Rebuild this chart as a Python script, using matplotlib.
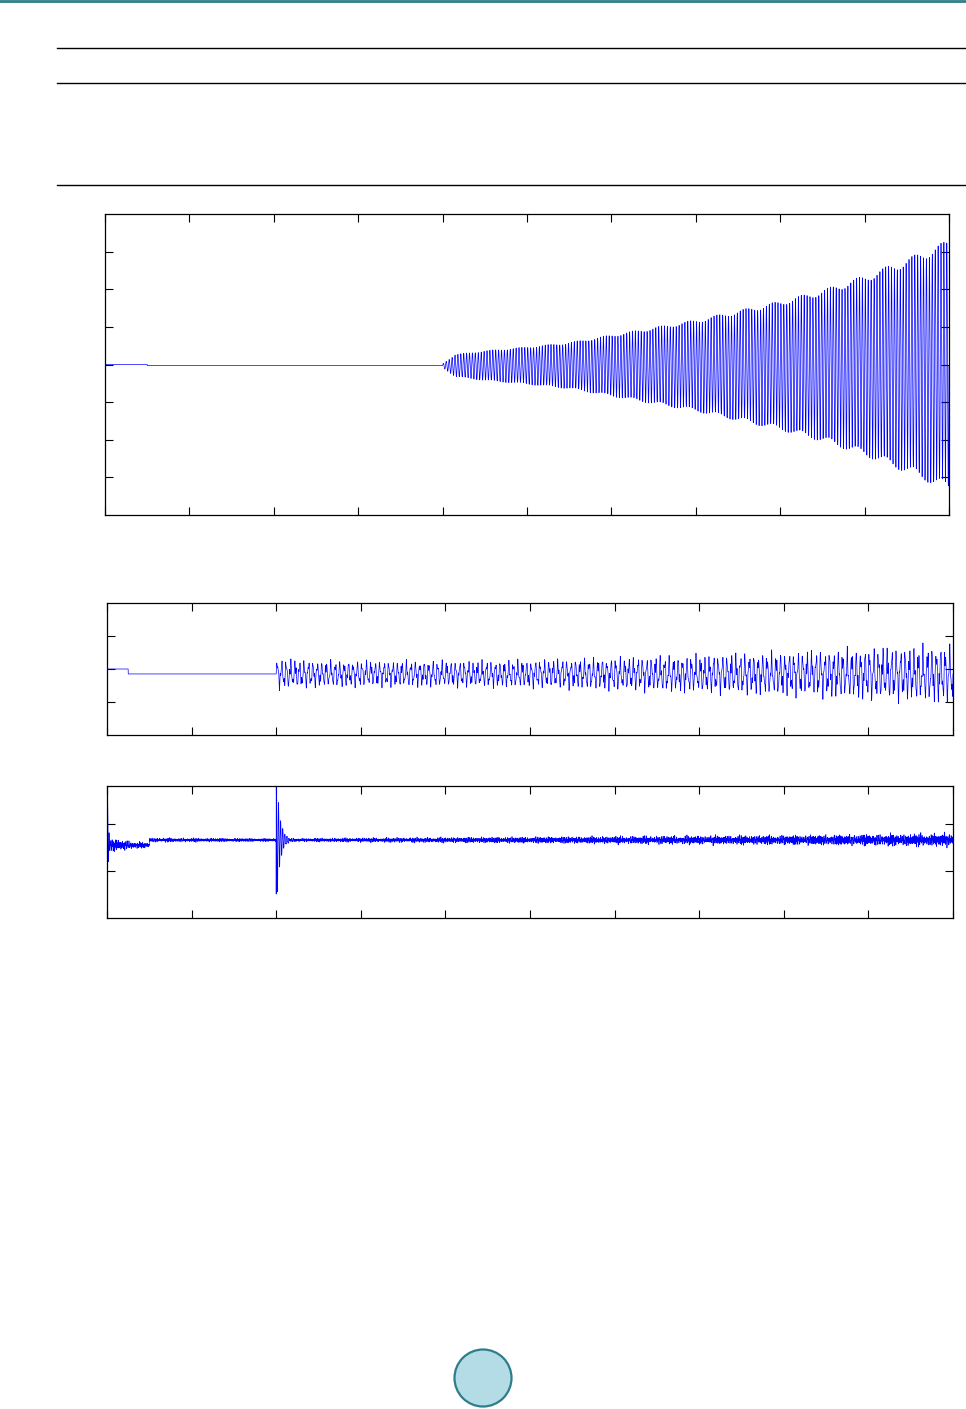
import numpy as np
import matplotlib
matplotlib.use("Agg")
import matplotlib.pyplot as plt
from matplotlib.lines import Line2D
from matplotlib.patches import Ellipse

# ---------------- data ----------------
# Panel 1: growing oscillation starting at t = 4
p1_levels_t = [0.0, 0.5]          # step times of the pre-oscillation baseline
p1_levels_y = [0.0, -0.03]
p1_start = 4.0
p1_env_t = [4.0, 4.15, 4.5, 5.0, 5.5, 6.0, 6.5, 7.0, 7.5, 8.0, 8.5, 9.0, 9.5, 10.0]
p1_env_a = [0.05, 0.30, 0.40, 0.50, 0.62, 0.82, 1.02, 1.22, 1.47, 1.72, 2.02, 2.40, 2.85, 3.35]
p1_freq = 29.0

# Panel 2: step then sustained, slowly growing oscillation from t = 2
p2_levels_t = [0.0, 0.25]
p2_levels_y = [0.0, -0.15]
p2_start = 2.0
p2_env_t = [2.0, 2.5, 3.0, 4.0, 5.0, 6.0, 7.0, 8.0, 9.0, 10.0]
p2_env_a = [0.42, 0.36, 0.36, 0.36, 0.38, 0.45, 0.52, 0.60, 0.70, 0.80]
p2_freqs = [19.0, 47.0]
p2_weights = [0.7, 0.3]

# Panel 3: transient at t = 0, step at 0.5, big transient at t = 2, then small noise
p3_levels_t = [0.0, 0.5]
p3_levels_y = [0.55, 0.66]
p3_start = 2.0
p3_ring_amp = 1.6
p3_ring_decay = 0.04
p3_noise_t = [0.0, 0.5, 2.0, 5.0, 8.0, 10.0]
p3_noise_a = [0.12, 0.04, 0.03, 0.06, 0.09, 0.12]

x_ticks = list(range(0, 11))
p1_yticks = [-3, -2, -1, 0, 1, 2, 3]
p2_yticks = [-1, 0, 1]
p3_yticks = [0, 1]

# ---------------- signal synthesis ----------------
t = np.linspace(0, 10, 40001)

def steps(tt, lt, ly):
    idx = np.searchsorted(lt, tt, side="right") - 1
    return np.asarray(ly)[np.clip(idx, 0, len(ly) - 1)]

# panel 1
y1 = steps(t, p1_levels_t, p1_levels_y)
m1 = t >= p1_start
env1 = np.interp(t, p1_env_t, p1_env_a)
osc1 = 0.96 * np.sin(2 * np.pi * p1_freq * (t - p1_start)) + 0.04 * np.sin(2 * np.pi * 61.0 * (t - p1_start))
y1 = np.where(m1, p1_levels_y[-1] + env1 * osc1, y1)

# panel 2
y2 = steps(t, p2_levels_t, p2_levels_y)
m2 = t >= p2_start
env2 = np.interp(t, p2_env_t, p2_env_a)
osc2 = sum(w * np.sin(2 * np.pi * f * (t - p2_start)) for f, w in zip(p2_freqs, p2_weights))
osc2 = osc2 + 0.25 * np.sin(2 * np.pi * 7.3 * (t - p2_start)) * np.sin(2 * np.pi * 71 * (t - p2_start))
y2 = np.where(m2, p2_levels_y[-1] + env2 * osc2, y2)

# panel 3
y3 = steps(t, p3_levels_t, p3_levels_y)
noise_env = np.interp(t, p3_noise_t, p3_noise_a)
pseudo = (np.sin(2 * np.pi * 53 * t) * np.sin(2 * np.pi * 3.1 * t)
          + 0.6 * np.sin(2 * np.pi * 131 * t + 1.0)
          + 0.5 * np.sin(2 * np.pi * 197 * t + 2.0) * np.sin(2 * np.pi * 1.7 * t)
          + 0.4 * np.sin(2 * np.pi * 89 * t + 0.5))
y3 = y3 + noise_env * pseudo / 1.6
# initial transient at t = 0
tr0 = np.exp(-t / 0.01) * np.cos(2 * np.pi * 60 * t)
y3 = y3 + np.where(t < 0.1, -1.9 * tr0, 0.0)
y3[0] = 1.15
# ring at t = 2
tau = t - p3_start
ring = np.where(tau >= 0, p3_ring_amp * np.exp(-tau / p3_ring_decay) * np.sin(2 * np.pi * 40 * tau + 0.9), 0.0)
y3 = y3 + ring
k = np.searchsorted(t, p3_start)
y3[k] = -0.49
y3[k + 1] = 2.5

# ---------------- figure ----------------
W, H = 966, 1409
fig = plt.figure(figsize=(W / 100, H / 100), dpi=100)

def fx(px):
    return px / W

def fy(py):
    return 1 - py / H

# page decorations
fig.add_artist(Line2D([0, 1], [fy(1), fy(1)], color="#2e7d8a", lw=2.0))
for yy in [48, 83, 185]:
    fig.add_artist(Line2D([fx(57), fx(966)], [fy(yy), fy(yy)], color="black", lw=1.0))
ell = Ellipse((fx(483), fy(1378)), 57 / W, 57 / H, transform=fig.transFigure,
              facecolor="#b3dce6", edgecolor="#2e7d8a", lw=1.6)
fig.add_artist(ell)

def make_ax(x0, x1, ytop, ybot):
    return fig.add_axes([fx(x0), fy(ybot), fx(x1) - fx(x0), (ybot - ytop) / H])

ax1 = make_ax(105, 949, 214, 515)
ax2 = make_ax(107, 953, 603, 735)
ax3 = make_ax(107, 953, 786, 918)

ax1.plot(t, y1, color="#0000ff", lw=0.5)
ax2.plot(t, y2, color="#0000ff", lw=0.5)
ax3.plot(t, y3, color="#0000ff", lw=0.5)

ax1.set_ylim(-4, 4)
ax2.set_ylim(-2, 2)
ax3.set_ylim(-1, 1.81)
for ax, yt in [(ax1, p1_yticks), (ax2, p2_yticks), (ax3, p3_yticks)]:
    ax.set_xlim(0, 10)
    ax.set_xticks(x_ticks)
    ax.set_yticks(yt)
    ax.tick_params(direction="in", top=True, right=True, length=5.5, width=0.8,
                   labelleft=False, labelbottom=False)
    for s in ax.spines.values():
        s.set_linewidth(0.9)

fig.savefig("out.png", dpi=100)
